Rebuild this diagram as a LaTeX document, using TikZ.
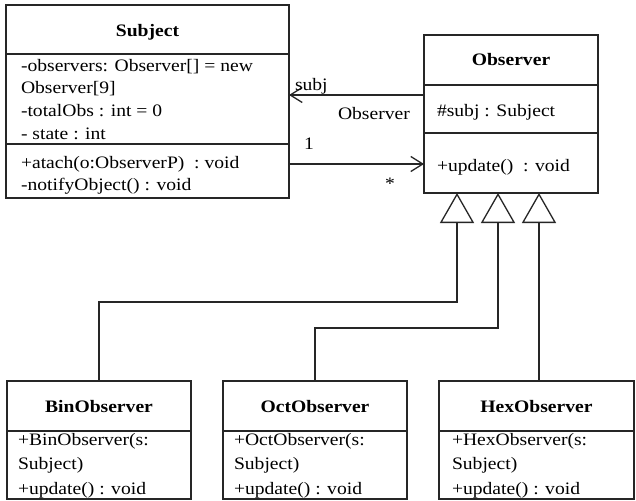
\documentclass[tikz,border=0pt]{standalone}
\usepackage{fontspec}
\setmainfont{Liberation Serif}[FakeStretch=1.12]
\usetikzlibrary{arrows.meta}
\begin{document}
\begin{tikzpicture}[x=1pt,y=-1pt,
  every node/.style={inner sep=0pt,outer sep=0pt},
  comp/.style={draw=black!85,line width=1.3pt,anchor=north west,rectangle},
  title/.style={anchor=base,font=\fontsize{17.5}{22}\bfseries},
  txt/.style={anchor=base west,font=\fontsize{17.5}{22}\selectfont},
  assoc/.style={draw=black!85,line width=1.3pt,-{Straight Barb[length=12pt,width=15pt,line width=1.3pt]}},
  gen/.style={draw=black!85,line width=1.3pt,-{Triangle[open,length=30pt,width=34pt,line width=1.3pt,fill=white]}}
]
\fill[white] (0,0) rectangle (636,500);
\useasboundingbox (0,0) rectangle (636,500);

% Subject
\node[comp,minimum width=283pt,minimum height=49pt] (subhead) at (6,5) {};
\node[comp,minimum width=283pt,minimum height=90pt] (subattr) at (6,54) {};
\node[comp,minimum width=283pt,minimum height=54pt] (subops) at (6,144) {};
\node[title] (subtitle) at (147.5,37) {Subject};
\node[txt] (s1) at (21,72) {-observers: Observer[] = new};
\node[txt] (s2) at (21,94) {Observer[9]};
\node[txt] (s3) at (21,116.5) {-totalObs : int = 0};
\node[txt] (s4) at (21,139) {- state : int};
\node[txt] (s5) at (21,168) {+atach(o:ObserverP)\ \ : void};
\node[txt] (s6) at (21,190) {-notifyObject() : void};

% Observer
\node[comp,minimum width=174pt,minimum height=50pt] (obshead) at (424,35) {};
\node[comp,minimum width=174pt,minimum height=48pt] (obsattr) at (424,85) {};
\node[comp,minimum width=174pt,minimum height=60pt] (obsops) at (424,133) {};
\node[title] (obstitle) at (511,66) {Observer};
\node[txt] (o1) at (437,116) {\#subj : Subject};
\node[txt] (o2) at (437,171) {+update()\ \ : void};

% Bottom classes
\node[comp,minimum width=184pt,minimum height=50pt] (binhead) at (7,381) {};
\node[comp,minimum width=184pt,minimum height=68pt] (binbody) at (7,431) {};
\node[title] (bintitle) at (99,412) {BinObserver};
\node[txt] (b1) at (18,445) {+BinObserver(s:};
\node[txt] (b2) at (18,469) {Subject)};
\node[txt] (b3) at (18,494) {+update() : void};

\node[comp,minimum width=184pt,minimum height=50pt] (octhead) at (223,381) {};
\node[comp,minimum width=184pt,minimum height=68pt] (octbody) at (223,431) {};
\node[title] (octtitle) at (315,412) {OctObserver};
\node[txt] (c1) at (234,445) {+OctObserver(s:};
\node[txt] (c2) at (234,469) {Subject)};
\node[txt] (c3) at (234,494) {+update() : void};

\node[comp,minimum width=195pt,minimum height=50pt] (hexhead) at (439,381) {};
\node[comp,minimum width=195pt,minimum height=68pt] (hexbody) at (439,431) {};
\node[title] (hextitle) at (536.5,412) {HexObserver};
\node[txt] (h1) at (452,445) {+HexObserver(s:};
\node[txt] (h2) at (452,469) {Subject)};
\node[txt] (h3) at (452,494) {+update() : void};

% associations
\coordinate (a1) at ([yshift=14pt]obsattr.west);
\draw[assoc] (a1) -- (a1 -| subattr.east);
\coordinate (a2) at ([yshift=7pt]subops.east);
\draw[assoc] (a2) -- (a2 -| obsops.west);
\node[txt] (lsubj) at (295,91) {subj};
\node[txt] (lobs) at (338,119) {Observer};
\node[txt] (lone) at (304,149) {1};
\node[anchor=center,font=\fontsize{17.5}{22}\selectfont] (lstar) at (390,184) {*};

% generalizations
\coordinate (g1) at ([xshift=33pt]obsops.south west);
\coordinate (g2) at ([xshift=74pt]obsops.south west);
\coordinate (g3) at ([xshift=115pt]obsops.south west);
\draw[gen] (binhead.north) -- ++(0,-79) -| (g1);
\draw[gen] (octhead.north) -- ++(0,-53) -| (g2);
\draw[gen] (g3 |- hexhead.north) -- (g3);
\end{tikzpicture}
\end{document}
